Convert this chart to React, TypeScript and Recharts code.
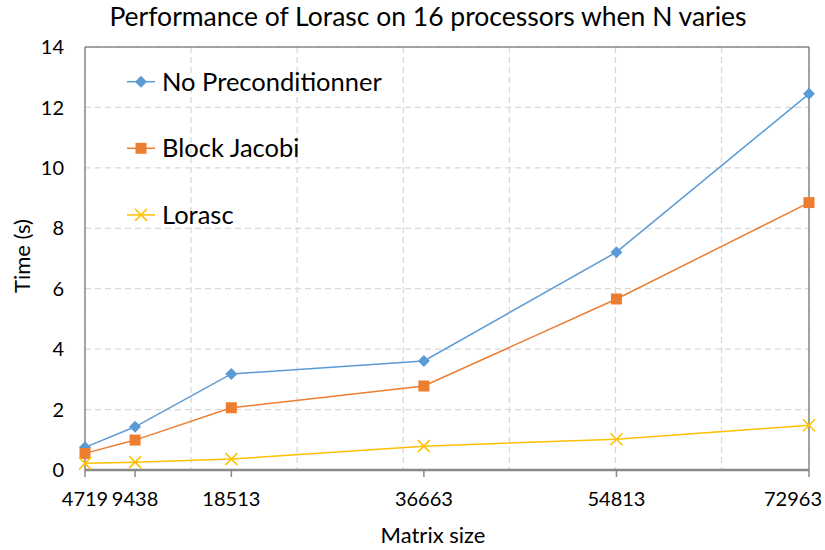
import React from "react";
import {
  CartesianGrid,
  Line,
  LineChart,
  ReferenceLine,
  XAxis,
  YAxis,
} from "recharts";

const matrixSizes = [4719, 9438, 18513, 36663, 54813, 72963];
const noPrecond = [0.75, 1.43, 3.18, 3.61, 7.21, 12.45];
const blockJacobi = [0.55, 0.99, 2.06, 2.78, 5.66, 8.85];
const lorasc = [0.22, 0.26, 0.36, 0.79, 1.02, 1.48];
const yTicks = [0, 2, 4, 6, 8, 10, 12, 14];
const gridX = [14719, 24719, 34719, 44719, 54719, 64719];

const data = matrixSizes.map((n, i) => ({
  n,
  noPrecond: noPrecond[i],
  blockJacobi: blockJacobi[i],
  lorasc: lorasc[i],
}));

const FONT = "Lato, 'Open Sans', sans-serif";
const BLUE = "#5B9BD5";
const ORANGE = "#ED7D31";
const YELLOW = "#FFC000";
const AXIS = "#898989";

const Diamond = ({ cx, cy, fill }: any) => (
  <path d={`M${cx},${cy - 6}L${cx + 6},${cy}L${cx},${cy + 6}L${cx - 6},${cy}Z`} fill={fill} />
);
const Square = ({ cx, cy, fill }: any) => (
  <rect x={cx - 5.5} y={cy - 5.5} width={11} height={11} fill={fill} />
);
const Cross = ({ cx, cy, stroke }: any) => (
  <path
    d={`M${cx - 6},${cy - 6}L${cx + 6},${cy + 6}M${cx - 6},${cy + 6}L${cx + 6},${cy - 6}`}
    stroke={stroke}
    strokeWidth={1.5}
  />
);

const legendItems = [
  { label: "No Preconditionner", color: BLUE, Marker: Diamond },
  { label: "Block Jacobi", color: ORANGE, Marker: Square },
  { label: "Lorasc", color: YELLOW, Marker: Cross },
];

// last label is pushed left so it stays inside the picture, like Excel does
const XTick = ({ x, y, payload }: any) => {
  const last = payload.value === matrixSizes[matrixSizes.length - 1];
  return (
    <text
      x={last ? 822 : x}
      y={y}
      dy="0.71em"
      textAnchor={last ? "end" : "middle"}
      fontSize={20}
      fontFamily={FONT}
      fill="#000"
    >
      {payload.value}
    </text>
  );
};

const Overlay = () => (
  <svg
    width={825}
    height={550}
    style={{ position: "absolute", left: 0, top: 0, pointerEvents: "none" }}
  >
    <text x={428} y={26} textAnchor="middle" fontSize={26.5} fontFamily={FONT} fill="#000">
      Performance of Lorasc on 16 processors when N varies
    </text>
    <text x={433} y={543} textAnchor="middle" fontSize={22} fontFamily={FONT} fill="#000">
      Matrix size
    </text>
    <text
      x={30}
      y={256}
      transform="rotate(-90 30 256)"
      textAnchor="middle"
      fontSize={22}
      fontFamily={FONT}
      fill="#000"
    >
      Time (s)
    </text>
    {legendItems.map(({ label, color, Marker }, i) => {
      const y = 81.7 + i * 66.6;
      return (
        <g key={label}>
          <line x1={127} x2={155} y1={y} y2={y} stroke={color} strokeWidth={1.5} />
          <Marker cx={141} cy={y} fill={color} stroke={color} />
          <text x={162} y={y + 9} fontSize={25.5} fontFamily={FONT} fill="#000">
            {label}
          </text>
        </g>
      );
    })}
  </svg>
);

export default function App() {
  return (
    <div style={{ position: "absolute", left: 0, top: 0, width: 825, height: 550, background: "#fff" }}>
      <LineChart width={825} height={550} data={data} margin={{ top: 47, right: 16, left: 0, bottom: 0 }}>
        <XAxis
          xAxisId="grid"
          type="number"
          dataKey="n"
          domain={[4719, 72963]}
          ticks={gridX}
          hide
        />
        <CartesianGrid xAxisId="grid" stroke="#D9D9D9" strokeDasharray="6 4" strokeWidth={1.3} />
        <XAxis
          type="number"
          dataKey="n"
          domain={[4719, 72963]}
          ticks={matrixSizes}
          interval={0}
          height={80}
          axisLine={{ stroke: AXIS, strokeWidth: 2.5 }}
          tickLine={{ stroke: AXIS, strokeWidth: 1.5 }}
          tickSize={7}
          tickMargin={15}
          tick={<XTick />}
        />
        <YAxis
          type="number"
          domain={[0, 14]}
          ticks={yTicks}
          width={85}
          axisLine={{ stroke: AXIS, strokeWidth: 1.5 }}
          tickLine={false}
          tickSize={0}
          tickMargin={21}
          tick={{ fontSize: 20, fontFamily: FONT, fill: "#000" }}
        />
        <ReferenceLine y={14} stroke={AXIS} strokeWidth={1.5} />
        <ReferenceLine x={72963} stroke={AXIS} strokeWidth={1.5} />
        <Line
          dataKey="noPrecond"
          name="No Preconditionner"
          stroke={BLUE}
          strokeWidth={1.5}
          dot={(p: any) => <Diamond key={p.index} cx={p.cx} cy={p.cy} fill={BLUE} />}
          isAnimationActive={false}
        />
        <Line
          dataKey="blockJacobi"
          name="Block Jacobi"
          stroke={ORANGE}
          strokeWidth={1.5}
          dot={(p: any) => <Square key={p.index} cx={p.cx} cy={p.cy} fill={ORANGE} />}
          isAnimationActive={false}
        />
        <Line
          dataKey="lorasc"
          name="Lorasc"
          stroke={YELLOW}
          strokeWidth={1.5}
          dot={(p: any) => <Cross key={p.index} cx={p.cx} cy={p.cy} stroke={YELLOW} />}
          isAnimationActive={false}
        />
      </LineChart>
      <Overlay />
    </div>
  );
}
